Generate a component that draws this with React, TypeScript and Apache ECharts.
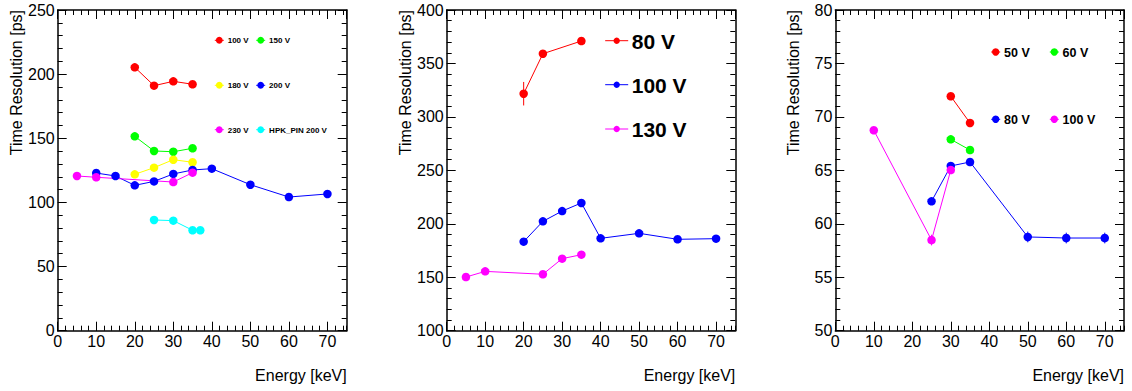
import React, { useEffect, useRef } from "react";
import * as echarts from "echarts";

const FONT = "'Liberation Sans', Arial, Helvetica, sans-serif";

// ---------- axis ranges ----------
const xRange = [0, 75];
const xMajorStep = 10;
const xMinorStep = 2;
const yRanges = [
  [0, 250, 50],
  [100, 400, 50],
  [50, 80, 5],
];
const xTitle = "Energy [keV]";
const yTitle = "Time Resolution [ps]";

// ---------- panel 1 ----------
const p1Energy100V = [20, 25, 30, 35];
const p1Res100V = [205.3, 191.0, 194.4, 192.1];
const p1Energy150V = [20, 25, 30, 35];
const p1Res150V = [151.5, 140.1, 139.5, 142.2];
const p1Energy180V = [20, 25, 30, 35];
const p1Res180V = [121.9, 127.1, 133.3, 131.3];
const p1Energy200V = [10, 15, 20, 25, 30, 35, 40, 50, 60, 70];
const p1Res200V = [122.9, 120.6, 113.3, 116.4, 122.2, 125.3, 126.3, 113.8, 104.2, 106.6];
const p1Energy230V = [5, 10, 30, 35];
const p1Res230V = [120.6, 119.6, 115.9, 123.2];
const p1EnergyPin = [25, 30, 35, 37];
const p1ResPin = [86.3, 85.8, 78.3, 78.3];

// ---------- panel 2 ----------
const p2Energy80V = [20, 25, 35];
const p2Res80V = [321.7, 359.1, 371.0];
const p2Err80V = [11, 3.5, 1.5];
const p2Energy100V = [20, 25, 30, 35, 40, 50, 60, 70];
const p2Res100V = [183.3, 202.3, 211.9, 219.5, 186.4, 191.1, 185.5, 186.1];
const p2Energy130V = [5, 10, 25, 30, 35];
const p2Res130V = [150.2, 155.5, 152.8, 167.4, 171.1];

// ---------- panel 3 ----------
const p3Energy50V = [30, 35];
const p3Res50V = [71.93, 69.43];
const p3Err50V = [0.2, 0.3];
const p3Energy60V = [30, 35];
const p3Res60V = [67.9, 66.9];
const p3Energy80V = [25, 30, 35, 50, 60, 70];
const p3Res80V = [62.1, 65.41, 65.78, 58.77, 58.67, 58.67];
const p3Err80V = [0.2, 0.25, 0.3, 0.5, 0.5, 0.5];
const p3Energy100V = [10, 25, 30];
const p3Res100V = [68.75, 58.48, 65.03];
const p3Err100V = [0.2, 0.5, 0.2];

const RED = "#ff0000";
const GREEN = "#00ff00";
const YELLOW = "#ffff00";
const BLUE = "#0000ff";
const MAGENTA = "#ff00ff";
const CYAN = "#00ffff";

type S = { name: string; color: string; x: number[]; y: number[]; err?: number[] };

const panels: {
  grid: { left: number; top: number; width: number; height: number };
  series: S[];
  legend: { fs: number; r: number; half: number; dx: number; items: [string, number, number][] };
}[] = [
  {
    grid: { left: 57.7, top: 10, width: 289, height: 320.7 },
    series: [
      { name: "100 V", color: RED, x: p1Energy100V, y: p1Res100V },
      { name: "150 V", color: GREEN, x: p1Energy150V, y: p1Res150V },
      { name: "180 V", color: YELLOW, x: p1Energy180V, y: p1Res180V },
      { name: "200 V", color: BLUE, x: p1Energy200V, y: p1Res200V },
      { name: "230 V", color: MAGENTA, x: p1Energy230V, y: p1Res230V },
      { name: "HPK_PIN 200 V", color: CYAN, x: p1EnergyPin, y: p1ResPin },
    ],
    legend: {
      fs: 8,
      r: 3.4,
      half: 4.5,
      dx: 8.4,
      items: [
        ["100 V", 219.3, 40.3],
        ["150 V", 260.7, 40.3],
        ["180 V", 219.3, 85.3],
        ["200 V", 260.7, 85.3],
        ["230 V", 219.3, 129.7],
        ["HPK_PIN 200 V", 260.7, 129.7],
      ],
    },
  },
  {
    grid: { left: 446.7, top: 10, width: 288.6, height: 320.7 },
    series: [
      { name: "80 V", color: RED, x: p2Energy80V, y: p2Res80V, err: p2Err80V },
      { name: "100 V", color: BLUE, x: p2Energy100V, y: p2Res100V },
      { name: "130 V", color: MAGENTA, x: p2Energy130V, y: p2Res130V },
    ],
    legend: {
      fs: 21,
      r: 3.2,
      half: 11.5,
      dx: 15,
      items: [
        ["80 V", 616.7, 40.7],
        ["100 V", 616.7, 84.7],
        ["130 V", 616.7, 129],
      ],
    },
  },
  {
    grid: { left: 835.3, top: 10, width: 288.7, height: 320.7 },
    series: [
      { name: "50 V", color: RED, x: p3Energy50V, y: p3Res50V, err: p3Err50V },
      { name: "60 V", color: GREEN, x: p3Energy60V, y: p3Res60V },
      { name: "80 V", color: BLUE, x: p3Energy80V, y: p3Res80V, err: p3Err80V },
      { name: "100 V", color: MAGENTA, x: p3Energy100V, y: p3Res100V, err: p3Err100V },
    ],
    legend: {
      fs: 12.5,
      r: 3.7,
      half: 4.5,
      dx: 8.3,
      items: [
        ["50 V", 995.7, 52],
        ["60 V", 1054.3, 52],
        ["80 V", 995.7, 119.3],
        ["100 V", 1054.3, 119.3],
      ],
    },
  },
];

function buildOption() {
  const grid: any[] = [];
  const xAxis: any[] = [];
  const yAxis: any[] = [];
  const series: any[] = [];
  const graphic: any[] = [];
  const black = { color: "#000", width: 1 };
  const frame = { show: true, onZero: false, lineStyle: { color: "#000", width: 1.5 } };
  const noLine = { show: false, onZero: false };

  panels.forEach((p, gi) => {
    grid.push({ ...p.grid, containLabel: false });
    const xb = { gridIndex: gi, type: "value", min: xRange[0], max: xRange[1], splitLine: { show: false } };
    const majorTick = { show: true, inside: true, length: 9, lineStyle: black };
    const minorTickX = { show: true, inside: true, length: 5, lineStyle: black };
    xAxis.push({
      ...xb,
      position: "bottom",
      interval: xMajorStep,
      axisLine: frame,
      axisTick: majorTick,
      axisLabel: { show: true, showMaxLabel: false, color: "#000", fontSize: 16, fontFamily: FONT, margin: 3 },
    });
    xAxis.push({ ...xb, position: "bottom", interval: xMinorStep, axisLine: noLine, axisTick: minorTickX, axisLabel: { show: false } });
    xAxis.push({ ...xb, position: "top", interval: xMajorStep, axisLine: frame, axisTick: majorTick, axisLabel: { show: false } });
    xAxis.push({ ...xb, position: "top", interval: xMinorStep, axisLine: noLine, axisTick: minorTickX, axisLabel: { show: false } });

    const [ymin, ymax, ystep] = yRanges[gi];
    const yb = {
      gridIndex: gi,
      type: "value",
      min: ymin,
      max: ymax,
      interval: ystep,
      splitLine: { show: false },
      minorSplitLine: { show: false },
      axisLine: frame,
      axisTick: majorTick,
      minorTick: { show: true, splitNumber: 5, length: 5, lineStyle: black },
    };
    yAxis.push({
      ...yb,
      position: "left",
      axisLabel: { show: true, color: "#000", fontSize: 16, fontFamily: FONT, margin: 3 },
    });
    yAxis.push({ ...yb, position: "right", axisLabel: { show: false } });

    p.series.forEach((s) => {
      if (s.err) {
        const errData = s.x.map((x, i) => [x, s.y[i] - s.err![i], s.y[i] + s.err![i]]);
        series.push({
          type: "custom",
          xAxisIndex: gi * 4,
          yAxisIndex: gi * 2,
          silent: true,
          z: 2,
          data: errData,
          renderItem: (params: any, api: any) => {
            const a = api.coord([api.value(0), api.value(1)]);
            const b = api.coord([api.value(0), api.value(2)]);
            return {
              type: "line",
              shape: { x1: a[0], y1: a[1], x2: b[0], y2: b[1] },
              style: { stroke: s.color, lineWidth: 1 },
            };
          },
        });
      }
      series.push({
        type: "line",
        name: s.name,
        xAxisIndex: gi * 4,
        yAxisIndex: gi * 2,
        data: s.x.map((x, i) => [x, s.y[i]]),
        symbol: "circle",
        symbolSize: 8.5,
        showSymbol: true,
        showAllSymbol: true,
        lineStyle: { color: s.color, width: 1 },
        itemStyle: { color: s.color },
        emphasis: { disabled: true },
        silent: true,
        z: 3,
      });
    });

    // legend drawn as graphic elements
    const L = p.legend;
    L.items.forEach(([label, mx, my]) => {
      const s = p.series.find((q) => q.name === label)!;
      graphic.push({
        type: "line",
        silent: true,
        shape: { x1: mx - L.half, y1: my, x2: mx + L.half, y2: my },
        style: { stroke: s.color, lineWidth: 1 },
      });
      graphic.push({ type: "circle", silent: true, shape: { cx: mx, cy: my, r: L.r }, style: { fill: s.color } });
      graphic.push({
        type: "text",
        silent: true,
        x: mx + L.dx,
        y: my + 0.5,
        style: {
          text: label,
          fill: "#000",
          fontSize: L.fs,
          fontWeight: "bold",
          fontFamily: FONT,
          textAlign: "left",
          textVerticalAlign: "middle",
        },
      });
    });

    // axis titles
    const right = p.grid.left + p.grid.width;
    graphic.push({
      type: "text",
      silent: true,
      x: right,
      y: 375,
      style: { text: xTitle, fill: "#000", fontSize: 16, fontFamily: FONT, textAlign: "right", textVerticalAlign: "middle" },
    });
    const yTitleX = [16, 405, 793.3][gi];
    graphic.push({
      type: "text",
      silent: true,
      x: yTitleX,
      y: 10,
      rotation: Math.PI / 2,
      style: { text: yTitle, fill: "#000", fontSize: 16, fontFamily: FONT, textAlign: "right", textVerticalAlign: "middle" },
    });
  });

  return {
    animation: false,
    backgroundColor: "#ffffff",
    grid,
    xAxis,
    yAxis,
    series,
    graphic,
  };
}

export default function App() {
  const ref = useRef<HTMLDivElement>(null);
  useEffect(() => {
    if (!ref.current) return;
    const chart = echarts.init(ref.current, undefined, { renderer: "svg" });
    chart.setOption(buildOption() as any);
    return () => chart.dispose();
  }, []);
  return (
    <div
      ref={ref}
      style={{ position: "fixed", left: 0, top: 0, width: 1132, height: 391, background: "#fff" }}
    />
  );
}
